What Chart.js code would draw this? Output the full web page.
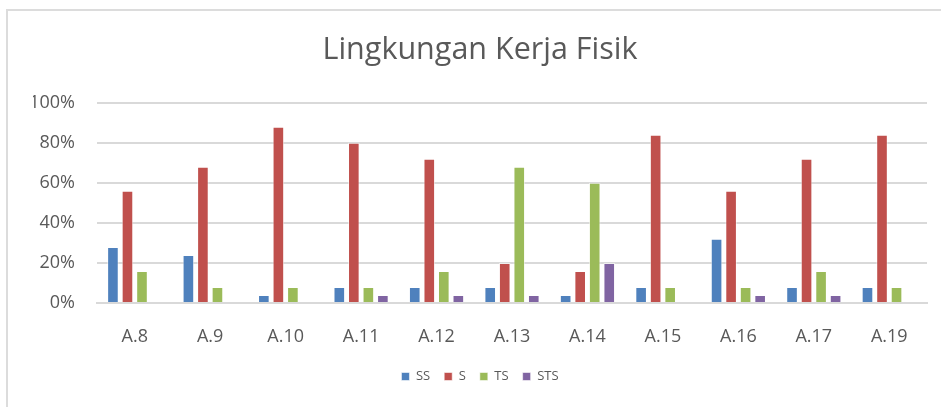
<!DOCTYPE html>
<html>
<head>
<meta charset="utf-8">
<script src="https://cdn.jsdelivr.net/npm/chart.js@4/dist/chart.umd.min.js"></script>
<style>
  body { margin: 0; background: #fff; }
  #frame { position: absolute; left: 6px; top: 9px; right: 0; bottom: 0; border-left: 2px solid #dcdcdc; border-top: 2px solid #dcdcdc; }
  #myChart { position: absolute; left: 0; top: 0; }
</style>
</head>
<body>
<div id="frame"></div>
<canvas id="myChart" width="941" height="407"></canvas>
<script>
var categories = ["A.8", "A.9", "A.10", "A.11", "A.12", "A.13", "A.14", "A.15", "A.16", "A.17", "A.19"];
var ss  = [0.28, 0.24, 0.04, 0.08, 0.08, 0.08, 0.04, 0.08, 0.32, 0.08, 0.08];
var s   = [0.56, 0.68, 0.88, 0.80, 0.72, 0.20, 0.16, 0.84, 0.56, 0.72, 0.84];
var ts  = [0.16, 0.08, 0.08, 0.08, 0.16, 0.68, 0.60, 0.08, 0.08, 0.16, 0.08];
var sts = [0, 0, 0, 0.04, 0.04, 0.04, 0.20, 0, 0.04, 0.04, 0];

var ctx = document.getElementById("myChart");
var font = "'Open Sans', 'DejaVu Sans', sans-serif";

function ds(label, data, color) {
    return {
        label: label,
        data: data,
        backgroundColor: color,
        borderColor: 'rgba(255,255,255,0.55)',
        borderWidth: 1,
        categoryPercentage: 0.77,
        barPercentage: 0.8
    };
}

var myChart = new Chart(ctx, {
    type: 'bar',
    data: {
        labels: categories,
        datasets: [
            ds('SS', ss, '#4F81BD'),
            ds('S', s, '#C0504D'),
            ds('TS', ts, '#9BBB59'),
            ds('STS', sts, '#8064A2')
        ]
    },
    options: {
        responsive: false,
        animation: false,
        layout: { padding: { left: 33, right: 14, top: 0, bottom: 14 } },
        plugins: {
            title: {
                display: true,
                text: 'Lingkungan Kerja Fisik',
                color: '#595959',
                font: { family: font, size: 30.5, weight: 'normal', lineHeight: 1.2 },
                padding: { top: 32, bottom: 34 }
            },
            legend: {
                position: 'bottom',
                labels: {
                    boxWidth: 8,
                    boxHeight: 8,
                    padding: 14,
                    color: '#595959',
                    font: { family: font, size: 13 }
                }
            },
            tooltip: { enabled: false }
        },
        scales: {
            x: {
                grid: { display: false },
                border: { display: true, color: '#d9d9d9', width: 2 },
                ticks: { color: '#595959', font: { family: font, size: 18 }, padding: 15 },
                afterFit: function (scale) { scale.height = 53; }
            },
            y: {
                min: 0,
                max: 1,
                ticks: {
                    stepSize: 0.2,
                    color: '#595959',
                    padding: 22,
                    font: { family: font, size: 18 },
                    callback: function (v) { return Math.round(v * 100) + '%'; }
                },
                grid: { color: '#d9d9d9', lineWidth: 2, drawTicks: false },
                border: { display: false },
                afterFit: function (scale) { scale.width = 64; }
            }
        }
    }
});
</script>
</body>
</html>
